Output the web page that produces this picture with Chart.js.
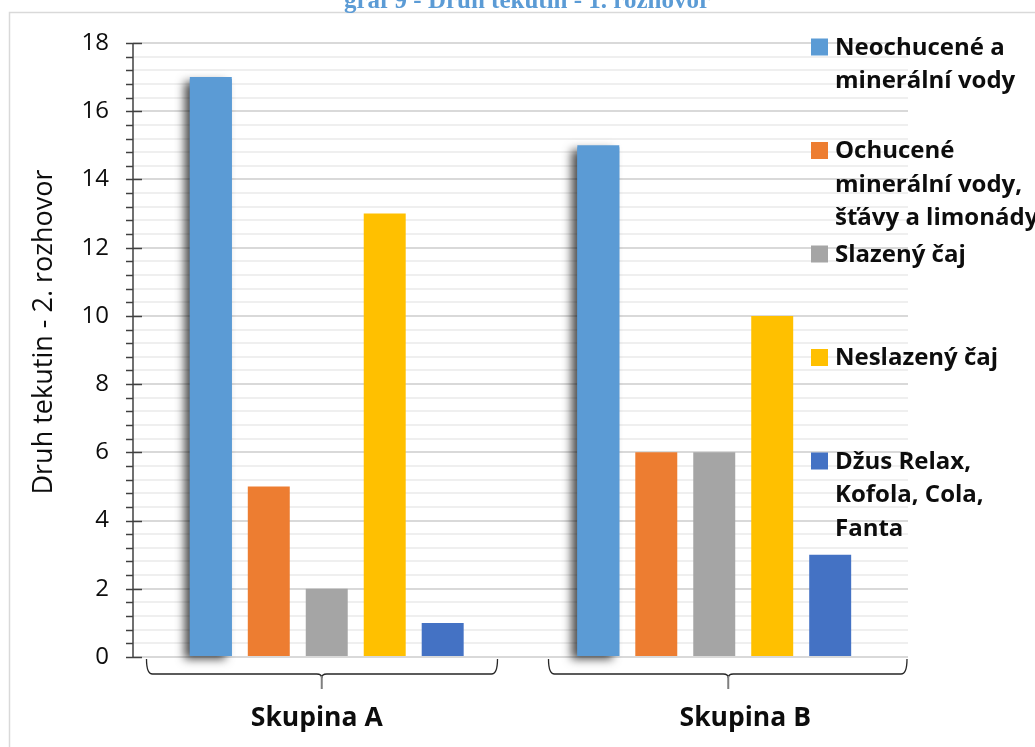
<!DOCTYPE html>
<html>
<head>
<meta charset="utf-8">
<script src="https://cdn.jsdelivr.net/npm/chart.js@4.4.0/dist/chart.umd.min.js"></script>
<style>
  html, body { margin: 0; padding: 0; background: #ffffff; overflow: hidden; }
  canvas { display: block; }
</style>
</head>
<body>
<canvas id="chart" width="1035" height="747"></canvas>
<script>
// Category groups and series
const categories = ['Skupina A', 'Skupina B'];
const seriesNames = [
  'Neochucené a minerální vody',
  'Ochucené minerální vody, šťávy a limonády',
  'Slazený čaj',
  'Neslazený čaj',
  'Džus Relax, Kofola, Cola, Fanta'
];
const neochucene = [17, 15];
const ochucene = [5, 6];
const slazenyCaj = [2, 6];
const neslazenyCaj = [13, 10];
const dzusKofola = [1, 3];
const yTickLabels = ['0', '2', '4', '6', '8', '10', '12', '14', '16', '18'];

const chartTitle = 'graf 9 - Druh tekutin - 1. rozhovor';
const yAxisTitle = 'Druh tekutin - 2. rozhovor';

const seriesColors = ['#5B9BD5', '#ED7D31', '#A5A5A5', '#FFC000', '#4472C4'];
const seriesValues = [neochucene, ochucene, slazenyCaj, neslazenyCaj, dzusKofola];

const Y_MAX = Number(yTickLabels[yTickLabels.length - 1]);
const MAJOR = Number(yTickLabels[1]) - Number(yTickLabels[0]);
const MINOR = MAJOR / 5;
const isMajor = v => Math.abs(v / MAJOR - Math.round(v / MAJOR)) < 1e-6;

const SANS = '"Open Sans", "Noto Sans", sans-serif';

// Frame, title, shadow on the first series, axis ticks, group brackets, legend
const decorations = {
  id: 'decorations',
  beforeDraw(chart) {
    const ctx = chart.ctx;
    ctx.save();
    ctx.fillStyle = '#ffffff';
    ctx.fillRect(0, 0, chart.width, chart.height);
    // chart frame
    ctx.strokeStyle = '#d9d9d9';
    ctx.lineWidth = 1.5;
    ctx.beginPath();
    ctx.moveTo(9.5, chart.height + 5);
    ctx.lineTo(9.5, 12.5);
    ctx.lineTo(chart.width + 5, 12.5);
    ctx.stroke();
    // caption above the frame
    ctx.fillStyle = '#5B9BD5';
    ctx.font = 'bold 25px "Liberation Serif", "DejaVu Serif", serif';
    ctx.textAlign = 'center';
    ctx.textBaseline = 'alphabetic';
    ctx.fillText(chartTitle, 527, 8);
    ctx.restore();
  },
  beforeDatasetDraw(chart, args) {
    if (args.index !== 0) return;
    // soft drop shadow behind the first series' bars
    const ctx = chart.ctx;
    ctx.save();
    ctx.shadowColor = 'rgba(0,0,0,0.7)';
    ctx.shadowBlur = 9;
    ctx.shadowOffsetX = -6;
    ctx.shadowOffsetY = 3;
    ctx.fillStyle = chart.data.datasets[0].backgroundColor;
    args.meta.data.forEach(el => {
      const p = el.getProps(['x', 'y', 'base', 'width'], true);
      ctx.fillRect(p.x - p.width / 2, p.y + 2, p.width, p.base - p.y - 2);
    });
    ctx.restore();
  },
  afterDraw(chart) {
    const ctx = chart.ctx;
    const area = chart.chartArea;
    const y = chart.scales.y;
    const x = chart.scales.x;
    ctx.save();

    // vertical axis line with major/minor tick marks
    ctx.strokeStyle = '#404040';
    ctx.lineWidth = 1.5;
    ctx.beginPath();
    ctx.moveTo(area.left, y.getPixelForValue(0));
    ctx.lineTo(area.left, y.getPixelForValue(Y_MAX));
    ctx.stroke();
    y.ticks.forEach(t => {
      const py = Math.round(y.getPixelForValue(t.value)) + 0.5;
      ctx.beginPath();
      if (isMajor(t.value)) {
        ctx.moveTo(area.left - 7, py);
        ctx.lineTo(area.left + 9, py);
      } else {
        ctx.moveTo(area.left - 7, py);
        ctx.lineTo(area.left, py);
      }
      ctx.stroke();
    });

    // y axis title
    ctx.fillStyle = '#0d0d0d';
    ctx.font = '27px ' + SANS;
    ctx.textAlign = 'center';
    ctx.textBaseline = 'middle';
    ctx.translate(44, 332);
    ctx.rotate(-Math.PI / 2);
    ctx.fillText(yAxisTitle, 0, 0);
    ctx.setTransform(1, 0, 0, 1, 0, 0);

    // group brackets under the axis and group names
    const half = (area.right - area.left) / categories.length / 2;
    const bracketY = y.getPixelForValue(0);
    const shapes = [
      { from: 13.5, to: -23, notch: -5, label: -10 },
      { from: 28, to: -1, notch: 14, label: 31 }
    ];
    categories.forEach((name, i) => {
      const cx = x.getPixelForValue(i);
      const s = shapes[i];
      const L = cx - half + s.from;
      const R = cx + half + s.to;
      const C = cx + s.notch;
      const hy = bracketY + 17;
      ctx.strokeStyle = '#262626';
      ctx.lineWidth = 1.3;
      ctx.beginPath();
      ctx.moveTo(L, bracketY + 2);
      ctx.quadraticCurveTo(L, hy, L + 6, hy);
      ctx.lineTo(C - 5, hy);
      ctx.quadraticCurveTo(C, hy, C, hy + 4);
      ctx.quadraticCurveTo(C, hy, C + 5, hy);
      ctx.lineTo(R - 6, hy);
      ctx.quadraticCurveTo(R, hy, R, bracketY + 2);
      ctx.stroke();
      ctx.strokeStyle = '#7f7f7f';
      ctx.lineWidth = 2;
      ctx.beginPath();
      ctx.moveTo(C, hy + 2);
      ctx.lineTo(C, hy + 15);
      ctx.stroke();

      ctx.fillStyle = '#0d0d0d';
      ctx.font = 'bold 26.5px ' + SANS;
      ctx.textAlign = 'center';
      ctx.textBaseline = 'middle';
      ctx.fillText(name, cx + s.label, 718);
    });

    // legend on the right, entries spread evenly
    const lx = 811, tx = 835, top = 47, slot = 103.5, lineH = 33.5, maxW = 212;
    ctx.font = 'bold 24px ' + SANS;
    ctx.textAlign = 'left';
    ctx.textBaseline = 'middle';
    chart.data.datasets.forEach((ds, i) => {
      const cy = top + slot * i;
      ctx.fillStyle = ds.backgroundColor;
      ctx.fillRect(lx, cy - 8.5, 17, 17);
      const words = ds.label.split(' ');
      const lines = [];
      let cur = '';
      words.forEach(w => {
        const test = cur ? cur + ' ' + w : w;
        if (cur && ctx.measureText(test).width > maxW) {
          lines.push(cur);
          cur = w;
        } else {
          cur = test;
        }
      });
      if (cur) lines.push(cur);
      ctx.fillStyle = '#0d0d0d';
      lines.forEach((ln, k) => ctx.fillText(ln, tx, cy + 1 + k * lineH));
    });

    ctx.restore();
  }
};

new Chart(document.getElementById('chart'), {
  type: 'bar',
  data: {
    labels: categories,
    datasets: seriesNames.map((name, i) => ({
      label: name,
      data: seriesValues[i],
      backgroundColor: seriesColors[i],
      borderWidth: 0,
      categoryPercentage: 0.748,
      barPercentage: 0.724
    }))
  },
  options: {
    responsive: false,
    devicePixelRatio: 1,
    animation: false,
    layout: { padding: { left: 0, top: 43, right: 127, bottom: 90 } },
    plugins: {
      legend: { display: false },
      title: { display: false },
      tooltip: { enabled: false }
    },
    scales: {
      x: {
        display: false
      },
      y: {
        min: 0,
        max: Y_MAX,
        afterFit(scale) { scale.width = 133; },
        afterBuildTicks(scale) {
          const ticks = [];
          for (let k = 0; k <= Math.round(Y_MAX / MINOR); k++) {
            ticks.push({ value: Math.round(k * MINOR * 1000) / 1000 });
          }
          scale.ticks = ticks;
        },
        ticks: {
          autoSkip: false,
          padding: 24,
          color: '#0d0d0d',
          font: { family: SANS, size: 24 },
          callback: v => isMajor(v) ? yTickLabels[Math.round(v / MAJOR)] : ''
        },
        grid: {
          drawTicks: false,
          color: c => (c.tick && isMajor(c.tick.value)) ? '#d9d9d9' : '#efefef',
          lineWidth: 2
        },
        border: { display: false }
      }
    }
  },
  plugins: [decorations]
});
</script>
</body>
</html>
